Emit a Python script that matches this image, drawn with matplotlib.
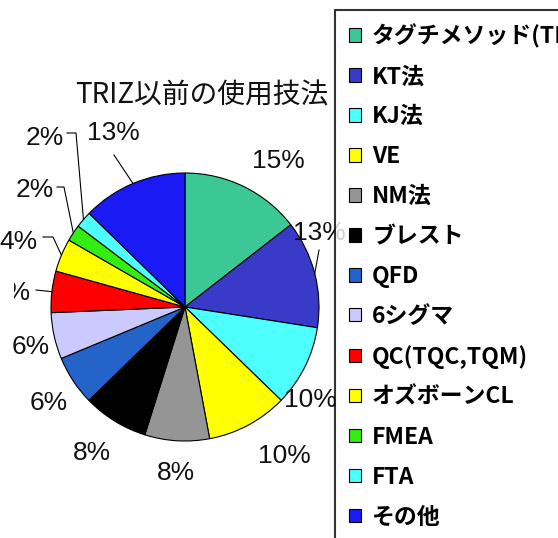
import matplotlib
matplotlib.use("Agg")
import matplotlib.pyplot as plt
from matplotlib.transforms import Bbox, TransformedBbox
import numpy as np

plt.rcParams['font.family'] = ['Noto Sans CJK JP', 'DejaVu Sans']

# ---- data ----
categories = ['タグチメソッド(TM)', 'KT法', 'KJ法', 'VE', 'NM法', 'ブレスト', 'QFD',
              '6シグマ', 'QC(TQC,TQM)', 'オズボーンCL', 'FMEA', 'FTA', 'その他']
values = [14.5, 13.0, 9.8, 9.8, 7.8, 7.9, 6.0, 5.6, 5.0, 4.0, 2.0, 2.0, 12.7]
pct_labels = ['15%', '13%', '10%', '10%', '8%', '8%', '6%', '6%', '5%', '4%', '2%', '2%', '13%']
colors = ['#3CC896', '#3A3AC8', '#4DFFFF', '#FFFF00', '#959595', '#000000', '#2464C8',
          '#CACAFF', '#FF0000', '#FFFF00', '#33EE11', '#4DFFFF', '#1A1AF5']
title = 'TRIZ以前の使用技法'

# ---- layout (pixel coordinates, y measured from top) ----
W, H = 558, 538
CX, CY, R = 185, 307, 134
label_pos = [(278, 161), (319, 233), (310, 400), (284, 456), (176, 473), (92, 453),
             (49, 403), (31, 347), (31, 293), (37, 242), (35, 190), (45, 138), (113, 133)]
label_ha = ['center'] * 8 + ['right', 'right'] + ['center'] * 3
# leader lines: index -> elbow points (pixel coords), ending at pie edge
leaders = {1: [(319, 250)],
           8: [(36, 290)],
           9: [(43, 237), (53, 237)],
           10: [(57, 187), (64, 187)],
           11: [(67, 133), (76, 133)],
           12: [(114, 155)]}

fig = plt.figure(figsize=(W / 100, H / 100), dpi=100)
ax = fig.add_axes([0, 0, 1, 1])

wedges, _ = ax.pie(values, colors=colors, startangle=90, counterclock=False,
                   center=(CX, H - CY), radius=R,
                   wedgeprops=dict(edgecolor='black', linewidth=0.8))
ax.set_xlim(0, W)
ax.set_ylim(0, H)
ax.axis('off')

pct_font = ['Liberation Sans', 'DejaVu Sans']
for i, (txt, (lx, ly)) in enumerate(zip(pct_labels, label_pos)):
    t = ax.text(lx, H - ly, txt, ha=label_ha[i], va='center', fontsize=19,
                family=pct_font, color='#111111')
    if i == 8:
        # the reference crops this label so only the % sign remains
        t.set_clip_box(TransformedBbox(Bbox([[14, 0], [W, H]]), ax.transData))
        t.set_clip_on(True)

for i, pts in leaders.items():
    w = wedges[i]
    mid = np.deg2rad((w.theta1 + w.theta2) / 2)
    ex = CX + R * np.cos(mid)
    ey = (H - CY) + R * np.sin(mid)
    xs = [p[0] for p in pts] + [ex]
    ys = [H - p[1] for p in pts] + [ey]
    ax.plot(xs, ys, color='black', lw=0.8)

ax.text(202, H - 95, title, ha='center', va='center', fontsize=20, color='#111111')

leg = fig.legend(wedges, categories, loc='upper left',
                 bbox_to_anchor=(335 / W, 1 - 10 / H), borderaxespad=0,
                 fontsize=16.5, frameon=True, fancybox=False, edgecolor='black',
                 handlelength=0.52, handleheight=0.52, handletextpad=0.5,
                 labelspacing=0.74, borderpad=0.6)
leg.get_frame().set_linewidth(1.5)
for t in leg.get_texts():
    t.set_fontweight('bold')

fig.savefig('out.png', dpi=100)
